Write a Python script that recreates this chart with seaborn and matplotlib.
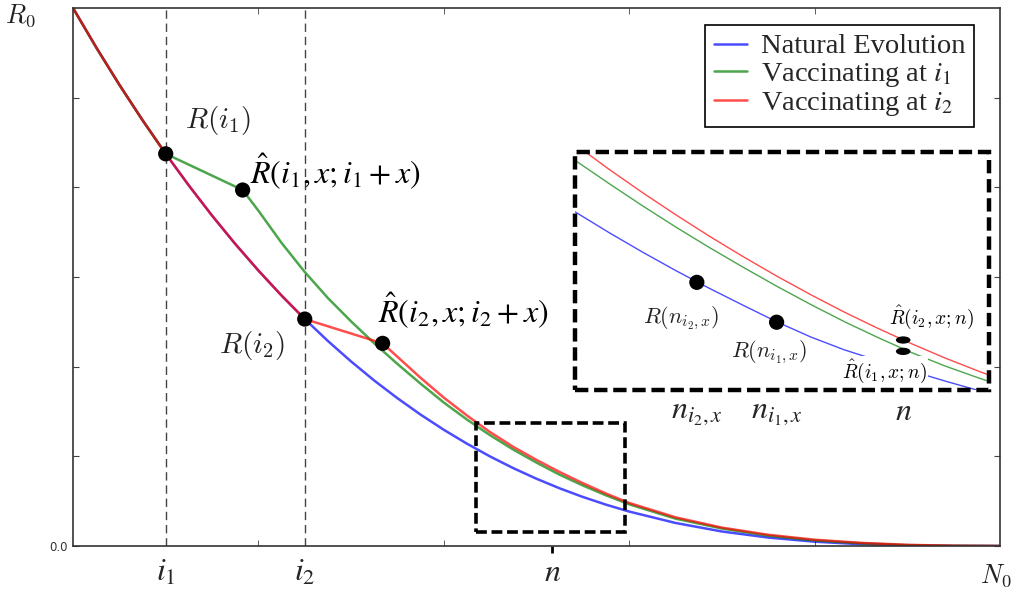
import seaborn as sns
import matplotlib.pyplot as plt
from matplotlib.patches import Rectangle
from matplotlib.path import Path
from matplotlib.transforms import Affine2D

# main curves (x from 0 to N0=10, y from 0 to R0=6)
blue_x = [0, 0.25, 0.5, 0.75, 1.0, 1.25, 1.5, 1.75, 2.0, 2.25, 2.5, 2.75, 3.0, 3.25, 3.5, 3.75,
          4.0, 4.25, 4.5, 4.75, 5.0, 5.25, 5.5, 5.75, 6.0, 6.5, 7.0, 7.5, 8.0, 8.5, 9.0, 9.5, 10.0]
blue_y = [6.0, 5.561, 5.144, 4.749, 4.374, 4.020, 3.685, 3.369, 3.072, 2.793, 2.531, 2.286, 2.058, 1.845, 1.648, 1.465,
          1.296, 1.141, 0.998, 0.868, 0.750, 0.643, 0.547, 0.461, 0.384, 0.257, 0.162, 0.094, 0.048, 0.020, 0.006, 0.001, 0.0]

green_x = [0, 0.25, 0.5, 0.75, 1.0, 1.83, 2.0, 2.25, 2.5, 2.75, 3.0, 3.25, 3.5, 3.75,
           4.0, 4.25, 4.5, 4.75, 5.0, 5.25, 5.5, 5.75, 6.0, 6.5, 7.0, 7.5, 8.0, 8.5, 9.0, 9.5, 10.0]
green_y = [6.0, 5.561, 5.144, 4.749, 4.374, 3.97, 3.74, 3.38, 3.056, 2.765, 2.505, 2.26, 2.03, 1.81,
           1.60, 1.41, 1.235, 1.075, 0.93, 0.795, 0.675, 0.565, 0.465, 0.305, 0.195, 0.115, 0.062, 0.03, 0.01, 0.002, 0.0]

red_x = [0, 0.25, 0.5, 0.75, 1.0, 1.25, 1.5, 1.75, 2.0, 2.25, 2.5, 3.34, 3.5, 3.75,
         4.0, 4.25, 4.5, 4.75, 5.0, 5.25, 5.5, 5.75, 6.0, 6.5, 7.0, 7.5, 8.0, 8.5, 9.0, 9.5, 10.0]
red_y = [6.0, 5.561, 5.144, 4.749, 4.374, 4.020, 3.685, 3.369, 3.072, 2.793, 2.531, 2.26, 2.11, 1.875,
         1.655, 1.455, 1.27, 1.105, 0.96, 0.825, 0.70, 0.585, 0.48, 0.32, 0.205, 0.125, 0.07, 0.035, 0.013, 0.003, 0.0]

# points on the main plot
dot_x = [1.0, 1.83, 2.5, 3.34]
dot_y = [4.374, 3.97, 2.531, 2.26]

i1, i2, n_main = 1.0, 2.5, 5.17
xtick_pos = [i1, i2, n_main]
xtick_lab = ['$i_1$', '$i_2$', '$n$']

# zoomed view (inset) curves
zx = [4.2, 4.3, 4.4, 4.5, 4.6, 4.7, 4.8, 4.9, 5.0, 5.1, 5.2, 5.3, 5.4, 5.5]
z_blue = [1.175, 1.108, 1.044, 0.983, 0.925, 0.870, 0.816, 0.767, 0.725, 0.690, 0.656, 0.623, 0.592, 0.562]
z_green = [1.343, 1.268, 1.195, 1.125, 1.058, 0.994, 0.932, 0.873, 0.817, 0.765, 0.716, 0.672, 0.633, 0.597]
z_red = [1.395, 1.3145, 1.238, 1.165, 1.095, 1.0285, 0.965, 0.905, 0.848, 0.795, 0.745, 0.698, 0.655, 0.615]

zdot_x = [4.562, 4.799]
zdot_y = [0.945, 0.815]
zhat_x = [5.175, 5.175]
zhat_y = [0.757, 0.72]
ztick_pos = [4.562, 4.799, 5.175]
ztick_lab = ['$n_{i_2,x}$', '$n_{i_1,x}$', '$n$']

sns.set_style("ticks")
plt.rcParams['font.family'] = ['DejaVu Sans']
plt.rcParams['mathtext.fontset'] = 'stix'

fig = plt.figure(figsize=(10.16, 5.92), dpi=100)
ax = fig.add_axes([73/1016, 1-546/592, 927/1016, 538/592])

ax.axvline(i1, color='#444444', lw=1, ls=(0, (6, 3.5)), zorder=1)
ax.axvline(i2, color='#444444', lw=1, ls=(0, (6, 3.5)), zorder=1)

sns.lineplot(x=blue_x, y=blue_y, ax=ax, color='b', alpha=0.7, lw=1.8, sort=False, estimator=None, label='Natural Evolution')
sns.lineplot(x=green_x, y=green_y, ax=ax, color='g', alpha=0.7, lw=1.8, sort=False, estimator=None, label='Vaccinating at $i_1$')
sns.lineplot(x=red_x, y=red_y, ax=ax, color='r', alpha=0.7, lw=1.8, sort=False, estimator=None, label='Vaccinating at $i_2$')
sns.scatterplot(x=dot_x, y=dot_y, ax=ax, color='black', s=120, edgecolor='none', zorder=5)

ax.set_xlim(0, 10)
ax.set_ylim(0, 6)
ax.set_yticks([0, 1, 2, 3, 4, 5])
ax.set_yticklabels(['0.0', '', '', '', '', ''], fontsize=8.5, color='#333333')
ax.tick_params(axis='y', direction='in', length=4, right=True, color='#444444')
ax.set_xticks(xtick_pos)
ax.set_xticklabels(xtick_lab, fontsize=23)
ax.set_xticks([2, 4, 6, 8], minor=True)
ax.tick_params(axis='x', which='minor', direction='in', length=4, top=True, color='#444444')
ax.tick_params(axis='x', which='major', direction='out', length=5, width=2, pad=3, color='black')
for k in (0, 1):
    ax.xaxis.get_major_ticks()[k].tick1line.set_visible(False)
for sp in ax.spines.values():
    sp.set_visible(True)
    sp.set_color('#333333')
    sp.set_linewidth(1.2)

# zoom window on the main plot
ax.add_patch(Rectangle((4.35, 0.156), 1.61, 1.216, fill=False, ec='black', lw=2.6, ls=(0, (3, 1.3)), zorder=6))

cm = dict(math_fontfamily='cm', color='#222222')
ax.text(1.564, 4.75, '$R(i_1)$', fontsize=21, ha='center', va='center', **cm)
ax.text(1.91, 4.17, r'$\hat{R}(i_1,x;i_1+x)$', fontsize=23, ha='left', va='center', color='black')
ax.text(1.93, 2.24, '$R(i_2)$', fontsize=21, ha='center', va='center', **cm)
ax.text(3.29, 2.62, r'$\hat{R}(i_2,x;i_2+x)$', fontsize=23, ha='left', va='center', color='black')

fig.text(20/1016, 1-16/592, '$R_0$', fontsize=19, ha='center', va='center', **cm)
fig.text(996/1016, 1-576/592, '$N_0$', fontsize=19, ha='center', va='center', **cm)

leg = ax.legend(loc='upper right', bbox_to_anchor=(974/1016, 1-25/592), bbox_transform=fig.transFigure,
                borderaxespad=0, fancybox=False, framealpha=1, edgecolor='black',
                prop={'family': 'Liberation Serif', 'size': 20.5}, handlelength=1.15, handletextpad=0.5,
                labelspacing=0.05, borderpad=0.3)
leg.get_frame().set_linewidth(1.2)

# inset
ins = fig.add_axes([575/1016, 1-390/592, 414/1016, 238/592])
sns.lineplot(x=zx, y=z_blue, ax=ins, color='b', alpha=0.7, lw=1, sort=False, estimator=None, legend=False)
sns.lineplot(x=zx, y=z_green, ax=ins, color='g', alpha=0.7, lw=1, sort=False, estimator=None, legend=False)
sns.lineplot(x=zx, y=z_red, ax=ins, color='r', alpha=0.7, lw=1, sort=False, estimator=None, legend=False)
sns.scatterplot(x=zdot_x, y=zdot_y, ax=ins, color='black', s=120, edgecolor='none', zorder=5)
flat = Path.unit_circle().transformed(Affine2D().scale(1, 0.5))
sns.scatterplot(x=zhat_x, y=zhat_y, ax=ins, color='black', s=110, marker=flat, edgecolor='none', zorder=5)
ins.set_xlim(4.2, 5.43)
ins.set_ylim(0.594, 1.37)
ins.set_yticks([])
ins.set_xticks(ztick_pos)
ins.set_xticklabels(ztick_lab, fontsize=23)
ins.tick_params(axis='x', length=0, pad=4)
for sp in ins.spines.values():
    sp.set_visible(False)
ins.add_patch(Rectangle((0, 0), 1, 1, transform=ins.transAxes, fill=False, ec='black', lw=3.2,
                        ls=(0, (3, 1.3)), clip_on=False, zorder=6))

ins.text(4.517, 0.829, '$R(n_{i_2,x})$', fontsize=16, ha='center', va='center', **cm)
ins.text(4.778, 0.718, '$R(n_{i_1,x})$', fontsize=16, ha='center', va='center', **cm)
ins.text(5.258, 0.832, r'$\hat{R}(i_2,x;n)$', fontsize=14, ha='center', va='center', math_fontfamily='cm', color='black')
ins.text(5.119, 0.656, r'$\hat{R}(i_1,x;n)$', fontsize=14, ha='center', va='center', math_fontfamily='cm', color='black',
         bbox=dict(fc='white', ec='none', pad=1), zorder=4)

fig.savefig('out.png', dpi=100)
